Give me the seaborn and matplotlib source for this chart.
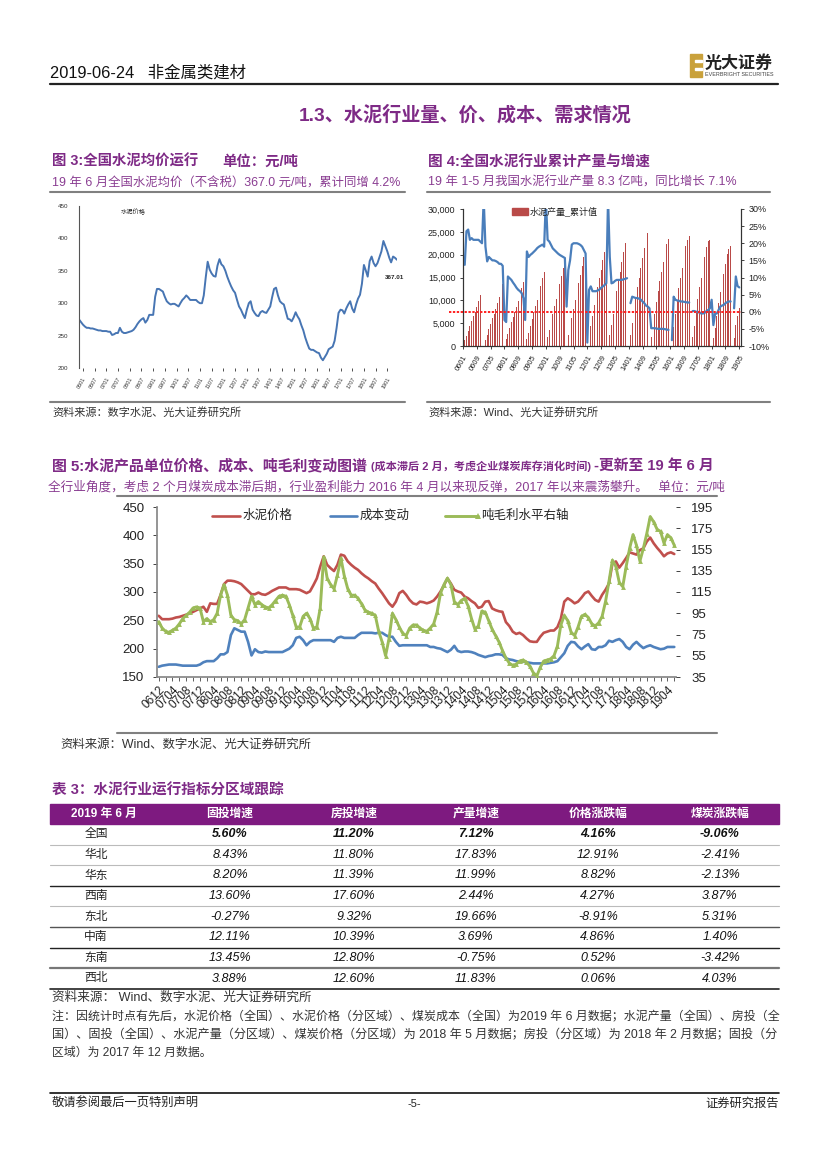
import numpy as np
import pandas as pd
import matplotlib
matplotlib.use('Agg')
import matplotlib.pyplot as plt
import seaborn as sns
from matplotlib.patches import Rectangle
from matplotlib.lines import Line2D

sns.set_theme(style='white')
plt.rcParams['font.family'] = ['Liberation Sans', 'Noto Sans CJK SC', 'DejaVu Sans']
plt.rcParams['axes.unicode_minus'] = False

# ---------------- data ----------------
# fig 3: national average cement price, monthly from 2005-11
price_avg = [275, 271,
             267, 264, 262, 262, 261, 261, 260, 259, 258, 258, 257, 257,
             257, 256, 256, 251, 252, 254, 254, 262, 256, 254, 254, 255,
             256, 257, 259, 263, 268, 272, 275, 277, 270, 274, 282, 282,
             282, 310, 322, 322, 320, 318, 310, 303, 300, 298, 299, 299,
             297, 295, 300, 305, 308, 312, 309, 305, 305, 305, 305, 302,
             300, 300, 312, 340, 364, 352, 346, 342, 341, 358, 368, 360,
             357, 350, 341, 333, 326, 320, 316, 305, 295, 290, 283, 277,
             290, 300, 303, 290, 285, 281, 280, 286, 288, 286, 285, 290,
             295, 310, 322, 324, 312, 303, 300, 298, 287, 276, 275, 272,
             278, 286, 280, 275, 266, 258, 247, 238, 230, 228, 228, 226,
             224, 223, 216, 212, 217, 222, 229, 231, 233, 242, 262, 285,
             290, 289, 284, 292, 298, 303, 292, 286, 298, 307, 313, 330,
             359, 350, 341, 365, 372, 362, 357, 362, 371, 380, 396, 388,
             380, 370, 363, 372, 370, 367]
price_dates = pd.date_range('2005-11-01', periods=len(price_avg), freq='MS')

# fig 4: cumulative cement output (bars) and cumulative yoy % (line), monthly from 2006-02
nan = np.nan
output_cum = [1300, 2200, 3300, 4400, 5500, 6500, 7500, 8600, 9800, 11100, 12400, nan,
              1400, 2500, 3700, 4900, 6100, 7100, 8200, 9400, 10700, 12100, 13600, nan,
              1500, 2600, 3900, 5200, 6400, 7500, 8600, 9900, 11300, 12700, 14000, nan,
              1600, 2900, 4400, 5900, 7400, 8700, 10100, 11600, 13200, 14800, 16300, nan,
              1900, 3500, 5200, 7000, 8700, 10200, 11800, 13500, 15300, 17100, 18700, nan,
              2300, 4200, 6200, 8200, 10100, 11900, 13700, 15600, 17600, 19400, 20600, nan,
              2300, 4400, 6600, 8900, 11100, 12900, 14800, 16700, 18800, 20600, 21800, nan,
              2400, 4600, 7000, 9600, 12100, 14200, 16200, 18300, 20500, 22600, 24200, nan,
              2500, 5000, 7600, 10300, 12900, 14900, 17100, 19300, 21500, 23500, 24800, nan,
              2000, 4300, 6900, 9700, 12100, 14200, 16300, 18500, 20800, 22400, 23500, nan,
              1800, 4200, 7100, 10100, 12800, 14800, 17000, 19400, 21800, 23200, 24000, nan,
              1900, 4400, 7300, 10300, 12900, 14900, 17100, 19400, 21600, 22900, 23200, nan,
              1700, 4000, 6600, 9400, 11900, 13800, 15800, 18000, 20100, 21300, 21800, nan,
              1800, 4500, 6600, 8300]
output_yoy = [13.7, 23.5, 24, 21, 21.5, 21, 21, 21, 21, 20.5, 20, 33,
              19, 14.7, 16, 15.5, 15, 15, 14.8, 14.5, 14, 14, 13.4, -2.4,
              -3, 10.3, 9.8, 9.3, 8.5, 7.8, 7, 6.4, 6, 5.4, 4, -2.4,
              17.6, 16, 16.6, 17, 17.5, 18, 18.6, 19, 19.3, 19.6, 19, 33,
              21, 20.5, 19.5, 18.5, 18, 17.5, 17, 16.6, 16.3, 16, 15.7, 1.5,
              12.2, 15, 19.6, 20, 20, 20, 19.8, 19.5, 19, 18, 17, -9,
              6.4, 7.4, 6, 6, 6, 6.2, 6.5, 7, 7.4, 7.8, 8.3, 33,
              16, 8.3, 8.5, 9, 9.3, 9.3, 9.3, 9.3, 9.5, 9.6, 9.8, nan,
              2.5, 4.4, 4.2, 4, 4, 3.8, 3.5, 3, 2.5, 1.8, 1.5, 1,
              -4.8, -4.8, -4.8, -4.9, -5, -5, -5, -5, -5.1, -5.2, -5.3, nan,
              -8.3, 4.4, 3.5, 3.3, 3.2, 3, 3, 2.9, 2.8, 2.7, 2.7, nan,
              0.2, 0.2, 0, 0, -0.3, -0.5, -0.5, -0.3, 0.2, 0.5, 1, 3.5,
              -3.9, -0.6, -0.5, 0.5, 1.5, 1.8, 2, 2.5, 2.8, 3, 3, nan,
              1.0, 10.3, 7.5, 7.1]
output_dates = pd.date_range('2006-02-01', periods=len(output_cum), freq='MS')

# fig 5: unit price, cost and gross profit per ton, monthly from 2006-12
unit_price = [258, 252, 252, 252, 253, 255, 256, 258, 260, 262,
              265, 268, 271, 274, 265, 280, 279, 279, 295, 314,
              320, 320, 319, 317, 314, 308, 302, 296, 296, 299,
              296, 295, 298, 302, 305, 308, 308, 308, 305, 305,
              305, 304, 301, 298, 301, 312, 324, 345, 363, 348,
              342, 337, 348, 366, 364, 354, 348, 343, 339, 333,
              328, 324, 319, 315, 306, 298, 289, 280, 274, 283,
              298, 302, 295, 286, 280, 278, 283, 282, 280, 282,
              285, 292, 301, 312, 324, 315, 304, 301, 299, 292,
              289, 284, 280, 272, 274, 283, 284, 271, 268, 266,
              265, 247, 240, 230, 226, 228, 224, 218, 213, 212,
              212, 221, 228, 230, 232, 232, 238, 253, 283, 289,
              285, 280, 283, 290, 298, 301, 293, 286, 283, 295,
              304, 315, 350, 354, 343, 351, 360, 370, 368, 366,
              374, 377, 389, 396, 386, 378, 371, 363, 368, 370, 367]
unit_cost = [168, 170, 171, 172, 172, 172, 171, 170, 170, 170,
             170, 170, 172, 176, 178, 178, 178, 183, 190, 190,
             194, 224, 236, 233, 230, 230, 212, 188, 199, 194,
             193, 195, 194, 194, 194, 194, 194, 197, 200, 206,
             219, 221, 215, 206, 212, 215, 215, 215, 215, 215,
             215, 212, 219, 221, 219, 219, 219, 219, 224, 228,
             228, 228, 228, 227, 228, 228, 224, 221, 221, 212,
             205, 206, 206, 206, 206, 206, 206, 206, 206, 203,
             203, 201, 200, 197, 194, 198, 205, 196, 194, 195,
             195, 194, 192, 189, 187, 185, 187, 188, 190, 190,
             189, 183, 181, 180, 178, 177, 177, 176, 175, 174,
             174, 174, 174, 174, 175, 176, 178, 185, 192, 205,
             212, 211, 204, 199, 204, 208, 199, 198, 203, 203,
             206, 214, 212, 215, 217, 212, 203, 199, 207, 212,
             206, 201, 204, 206, 203, 201, 199, 200, 203, 203, 203]
unit_margin = [87, 81, 78, 77, 79, 81, 85, 90, 93, 96,
               100, 101, 100, 87, 90, 87, 89, 95, 112, 122,
               112, 93, 89, 88, 85, 89, 100, 111, 103, 106,
               103, 101, 100, 103, 107, 111, 112, 111, 103, 93,
               82, 82, 92, 95, 90, 81, 82, 100, 148, 128,
               122, 118, 131, 147, 130, 118, 112, 112, 109, 104,
               98, 96, 95, 93, 78, 68, 55, 71, 95, 89,
               82, 76, 74, 81, 84, 84, 81, 79, 78, 81,
               85, 96, 114, 122, 128, 122, 106, 103, 107, 109,
               102, 90, 80, 83, 97, 96, 88, 80, 74, 68,
               60, 53, 48, 46, 47, 50, 51, 49, 45, 39,
               36, 44, 50, 51, 52, 55, 64, 84, 93, 88,
               77, 74, 82, 92, 94, 91, 85, 83, 86, 92,
               106, 125, 145, 139, 124, 120, 139, 156, 169, 159,
               144, 156, 170, 186, 181, 174, 172, 161, 169, 166, 159]
unit_dates = pd.date_range('2006-12-01', periods=len(unit_price), freq='MS')

# table 3
tbl_head = ['2019 年 6 月', '固投增速', '房投增速', '产量增速', '价格涨跌幅', '煤炭涨跌幅']
regions = ['全国', '华北', '华东', '西南', '东北', '中南', '东南', '西北']
fai_growth = [5.60, 8.43, 8.20, 13.60, -0.27, 12.11, 13.45, 3.88]
house_growth = [11.20, 11.80, 11.39, 17.60, 9.32, 10.39, 12.80, 12.60]
output_growth = [7.12, 17.83, 11.99, 2.44, 19.66, 3.69, -0.75, 11.83]
price_change = [4.16, 12.91, 8.82, 4.27, -8.91, 4.86, 0.52, 0.06]
coal_change = [-9.06, -2.41, -2.13, 3.87, 5.31, 1.40, -3.42, 4.03]

# ---------------- page ----------------
W, H = 827, 1169
PURPLE = '#7E2A86'
PURPLE2 = '#8A3D92'
RED, BLUE, GREEN = '#C0504D', '#4F81BD', '#9BBB59'

fig = plt.figure(figsize=(8.27, 11.69), dpi=100)
fig.patch.set_facecolor('white')
renderer = fig.canvas.get_renderer()


def fx(x):
    return x / W


def fy(y):
    return 1 - y / H


def put(x, y, s, size=9, width=None, **kw):
    kw.setdefault('va', 'center')
    t = fig.text(fx(x), fy(y), s, fontsize=size, **kw)
    if width:
        bb = t.get_window_extent(renderer)
        t.set_fontsize(size * width / bb.width)
    return t


def hline(y, x0, x1, color='#808080', lw=1.0):
    fig.add_artist(Line2D([fx(x0), fx(x1)], [fy(y), fy(y)], color=color, lw=lw))


def box(x0, y0, x1, y1):
    return fig.add_axes([fx(x0), fy(y1), (x1 - x0) / W, (y1 - y0) / H])


# header
put(50, 73, '2019-06-24   非金属类建材', size=10, width=196, color='#111111')
hline(84, 50, 778, color='#222222', lw=1.6)
fig.add_artist(Rectangle((fx(690), fy(77)), 12 / W, 23 / H, color='#C9A13B'))
for yy in (60, 68):
    fig.add_artist(Rectangle((fx(695), fy(yy + 2)), 7 / W, 2 / H, color='white'))
put(705, 63, '光大证券', size=10, width=68, weight='bold', color='#222222')
put(705, 74, 'EVERBRIGHT SECURITIES', size=3, width=68, color='#444444')

put(465, 115, '1.3、水泥行业量、价、成本、需求情况', size=14, width=334, ha='center',
    weight='bold', color=PURPLE)

# ---------- fig 3 ----------
put(52, 162, '图 3:全国水泥均价运行', size=10, width=146, weight='bold', color=PURPLE)
put(222, 162, '单位：元/吨', size=10, width=76, weight='bold', color=PURPLE)
put(52, 183, '19 年 6 月全国水泥均价（不含税）367.0 元/吨，累计同增 4.2%', size=9,
    width=348, color=PURPLE2)
hline(192, 50, 405, lw=1.5)
hline(402, 50, 405, lw=1.5)
put(52, 412, '资料来源：数字水泥、光大证券研究所', size=8, color='#333333')

ax3 = box(79, 206, 397, 368)
sns.lineplot(x=price_dates, y=price_avg, ax=ax3, color='#4775B3', lw=1.4)
ax3.set_xlim(price_dates[0], price_dates[-1])
ax3.set_ylim(200, 450)
ax3.set_yticks(range(200, 451, 50))
tick3 = [d for d in price_dates if d.month in (1, 7)]
ax3.set_xticks(tick3)
ax3.set_xticklabels([d.strftime('%y%m') for d in tick3], rotation=60, fontsize=4,
                    ha='right', rotation_mode='anchor')
ax3.tick_params(axis='y', labelsize=4.5, length=0, pad=8, colors='#333333')
ax3.tick_params(axis='x', length=2, width=0.6, pad=4, colors='#333333', bottom=True)
for s in ('top', 'right', 'bottom'):
    ax3.spines[s].set_visible(False)
ax3.spines['left'].set_color('#555555')
ax3.spines['left'].set_linewidth(0.8)
ax3.set_xlabel('')
ax3.set_ylabel('')
ax3.text(0.13, 0.96, '水泥价格', transform=ax3.transAxes, fontsize=4.5, va='center')
ax3.annotate('367.01', (price_dates[-1], price_avg[-1]), xytext=(-9, -14),
             textcoords='offset points', fontsize=4.5, weight='bold')

# ---------- fig 4 ----------
put(428, 162, '图 4:全国水泥行业累计产量与增速', size=10, width=222, weight='bold', color=PURPLE)
put(428, 183, '19 年 1-5 月我国水泥行业产量 8.3 亿吨，同比增长 7.1%', size=9, width=308,
    color=PURPLE2)
hline(192, 427, 770, lw=1.5)
hline(402, 427, 770, lw=1.5)
put(428, 412, '资料来源：Wind、光大证券研究所', size=8, color='#333333')

ax4 = box(463, 209, 741, 346)
idx4 = np.arange(len(output_cum))
ax4.bar(idx4, output_cum, width=0.5, color='#B94A48', linewidth=0)
ax4.set_xlim(-1, len(output_cum))
ax4.set_ylim(0, 30000)
ax4.set_yticks(range(0, 30001, 5000))
ax4.set_yticklabels([f'{v:,}' for v in range(0, 30001, 5000)])
tick4 = np.arange(-1, len(output_cum), 8)
ax4.set_xticks(tick4)
ax4.set_xticklabels([(output_dates[0] + pd.DateOffset(months=int(t))).strftime('%y%m')
                     for t in tick4], rotation=60, fontsize=5.5, ha='right',
                    rotation_mode='anchor')
ax4.tick_params(axis='y', labelsize=6.5, length=2, width=0.6, colors='#222222', left=True)
ax4.tick_params(axis='x', length=2, width=0.6, pad=4, colors='#222222', bottom=True)
ax4r = ax4.twinx()
ax4r.plot(idx4, output_yoy, color='#4A7EBB', lw=1.6)
ax4r.set_ylim(-10, 30)
ax4r.set_yticks(range(-10, 31, 5))
ax4r.set_yticklabels([f'{v}%' for v in range(-10, 31, 5)])
ax4r.tick_params(axis='y', labelsize=6.5, length=2, width=0.6, colors='#222222', right=True)
ax4r.axhline(0, xmin=-0.05, xmax=1.0, color='#FF2020', ls=(0, (1.2, 0.8)), lw=1.4,
             clip_on=False)
for a in (ax4, ax4r):
    a.spines['top'].set_visible(False)
    for s in ('left', 'right', 'bottom'):
        a.spines[s].set_color('#333333')
        a.spines[s].set_linewidth(0.8)
fig.add_artist(Rectangle((fx(512), fy(215)), 16 / W, 7 / H, color='#B94A48'))
put(530, 211, '水泥产量_累计值', size=6.5, color='#222222')

# ---------- fig 5 ----------
put(52, 466, '图 5:水泥产品单位价格、成本、吨毛利变动图谱', size=10, width=316,
    weight='bold', color=PURPLE)
put(371, 466, '(成本滞后 2 月，考虑企业煤炭库存消化时间)', size=7, width=220,
    weight='bold', color=PURPLE)
put(594, 466, '-更新至 19 年 6 月', size=10, width=120, weight='bold', color=PURPLE)
put(48, 487, '全行业角度，考虑 2 个月煤炭成本滞后期，行业盈利能力 2016 年 4 月以来现反弹，'
    '2017 年以来震荡攀升。   单位：元/吨', size=9, width=676, color=PURPLE2)
hline(496, 117, 717, lw=1.5)
hline(733, 117, 717, lw=1.5)
put(60, 745, '资料来源：Wind、数字水泥、光大证券研究所', size=8, width=252, color='#333333')

ax5 = box(157, 507, 676, 677)
idx5 = np.arange(len(unit_price))
sns.lineplot(x=idx5, y=unit_price, ax=ax5, color=RED, lw=1.9)
sns.lineplot(x=idx5, y=unit_cost, ax=ax5, color=BLUE, lw=1.9)
ax5.set_xlim(-0.5, len(unit_price) - 0.5)
ax5.set_ylim(150, 450)
ax5.set_yticks(range(150, 451, 50))
ax5.set_xticks(idx5[::2], minor=True)
ax5.set_xticks(idx5[::4])
ax5.set_xticklabels([d.strftime('%y%m') for d in unit_dates[::4]], rotation=45,
                    fontsize=8.5, ha='right', rotation_mode='anchor')
ax5.tick_params(axis='y', labelsize=9.5, length=3, width=0.6, colors='#222222', left=True,
                pad=6)
ax5.tick_params(axis='x', which='both', length=3, width=0.6, colors='#444444', bottom=True,
                pad=2)
ax5.tick_params(axis='x', labelcolor='#222222')
ax5r = ax5.twinx()
sns.lineplot(x=idx5, y=unit_margin, ax=ax5r, color=GREEN, lw=2.1, marker='^',
             markersize=3.5, markeredgewidth=0, markerfacecolor=GREEN)
ax5r.set_ylim(35, 195)
ax5r.set_yticks(range(35, 196, 20))
ax5r.tick_params(axis='y', labelsize=9.5, length=3, width=0.6, colors='#222222', right=True,
                 pad=8)
for a in (ax5, ax5r):
    a.set_xlabel('')
    a.set_ylabel('')
    a.spines['top'].set_visible(False)
    a.spines['right'].set_visible(False)
ax5.spines['left'].set_color('#888888')
ax5.spines['bottom'].set_color('#888888')
ax5r.spines['left'].set_visible(False)
ax5r.spines['bottom'].set_visible(False)

fig.add_artist(Line2D([fx(212), fx(240)], [fy(516), fy(516)], color=RED, lw=1.9))
put(243, 516, '水泥价格', size=9, color='#222222')
fig.add_artist(Line2D([fx(330), fx(357)], [fy(516), fy(516)], color=BLUE, lw=1.9))
put(360, 516, '成本变动', size=9, color='#222222')
fig.add_artist(Line2D([fx(445), fx(478)], [fy(516), fy(516)], color=GREEN, lw=2.1,
                      marker='^', markevery=[1], markersize=4, markeredgewidth=0))
put(481, 516, '吨毛利水平右轴', size=9, color='#222222')

# ---------- table 3 ----------
put(52, 791, '表 3：水泥行业运行指标分区域跟踪', size=10, width=231, weight='bold',
    color=PURPLE)
fig.add_artist(Rectangle((fx(50), fy(824)), 729 / W, 20 / H, color='#7E1A80'))
col_x = [104, 230, 354, 476, 598, 720]
for cx, h in zip(col_x, tbl_head):
    put(cx, 814, h, size=8.5, ha='center', weight='bold', color='white')
row_h = 20.6
line_cols = ['#BBBBBB', '#BBBBBB', '#222222', '#BBBBBB', '#555555', '#222222', '#777777',
             '#222222']
line_w = [0.8, 0.8, 1.0, 0.8, 1.0, 1.0, 1.6, 1.2]
for i, reg in enumerate(regions):
    yc = 824 + row_h * (i + 0.5)
    wt = 'bold' if i == 0 else 'normal'
    put(col_x[0] - 8, yc, reg, size=8.5, ha='center', color='#222222')
    vals = [fai_growth[i], house_growth[i], output_growth[i], price_change[i], coal_change[i]]
    for cx, v in zip(col_x[1:], vals):
        put(cx, yc, f'{v:.2f}%', size=9, ha='center', style='italic', weight=wt,
            color='#111111')
    hline(824 + row_h * (i + 1), 50, 779, color=line_cols[i], lw=line_w[i])

put(52, 998, '资料来源： Wind、数字水泥、光大证券研究所', size=8, width=260, color='#333333')
put(52, 1017, '注：因统计时点有先后，水泥价格（全国）、水泥价格（分区域）、煤炭成本（全国）为2019 年 6 月数据；'
    '水泥产量（全国）、房投（全', size=8, width=727, color='#333333')
put(52, 1035, '国）、固投（全国）、水泥产量（分区域）、煤炭价格（分区域）为 2018 年 5 月数据；'
    '房投（分区域）为 2018 年 2 月数据；固投（分', size=8, width=727, color='#333333')
put(52, 1053, '区域）为 2017 年 12 月数据。', size=8, width=160, color='#333333')

# footer
hline(1093, 50, 779, color='#111111', lw=1.2)
put(52, 1104, '敬请参阅最后一页特别声明', size=8, width=148, color='#222222')
put(414, 1104, '-5-', size=8, ha='center', color='#222222')
put(779, 1104, '证券研究报告', size=8, width=74, ha='right', color='#222222')

fig.savefig('out.png', dpi=100)
